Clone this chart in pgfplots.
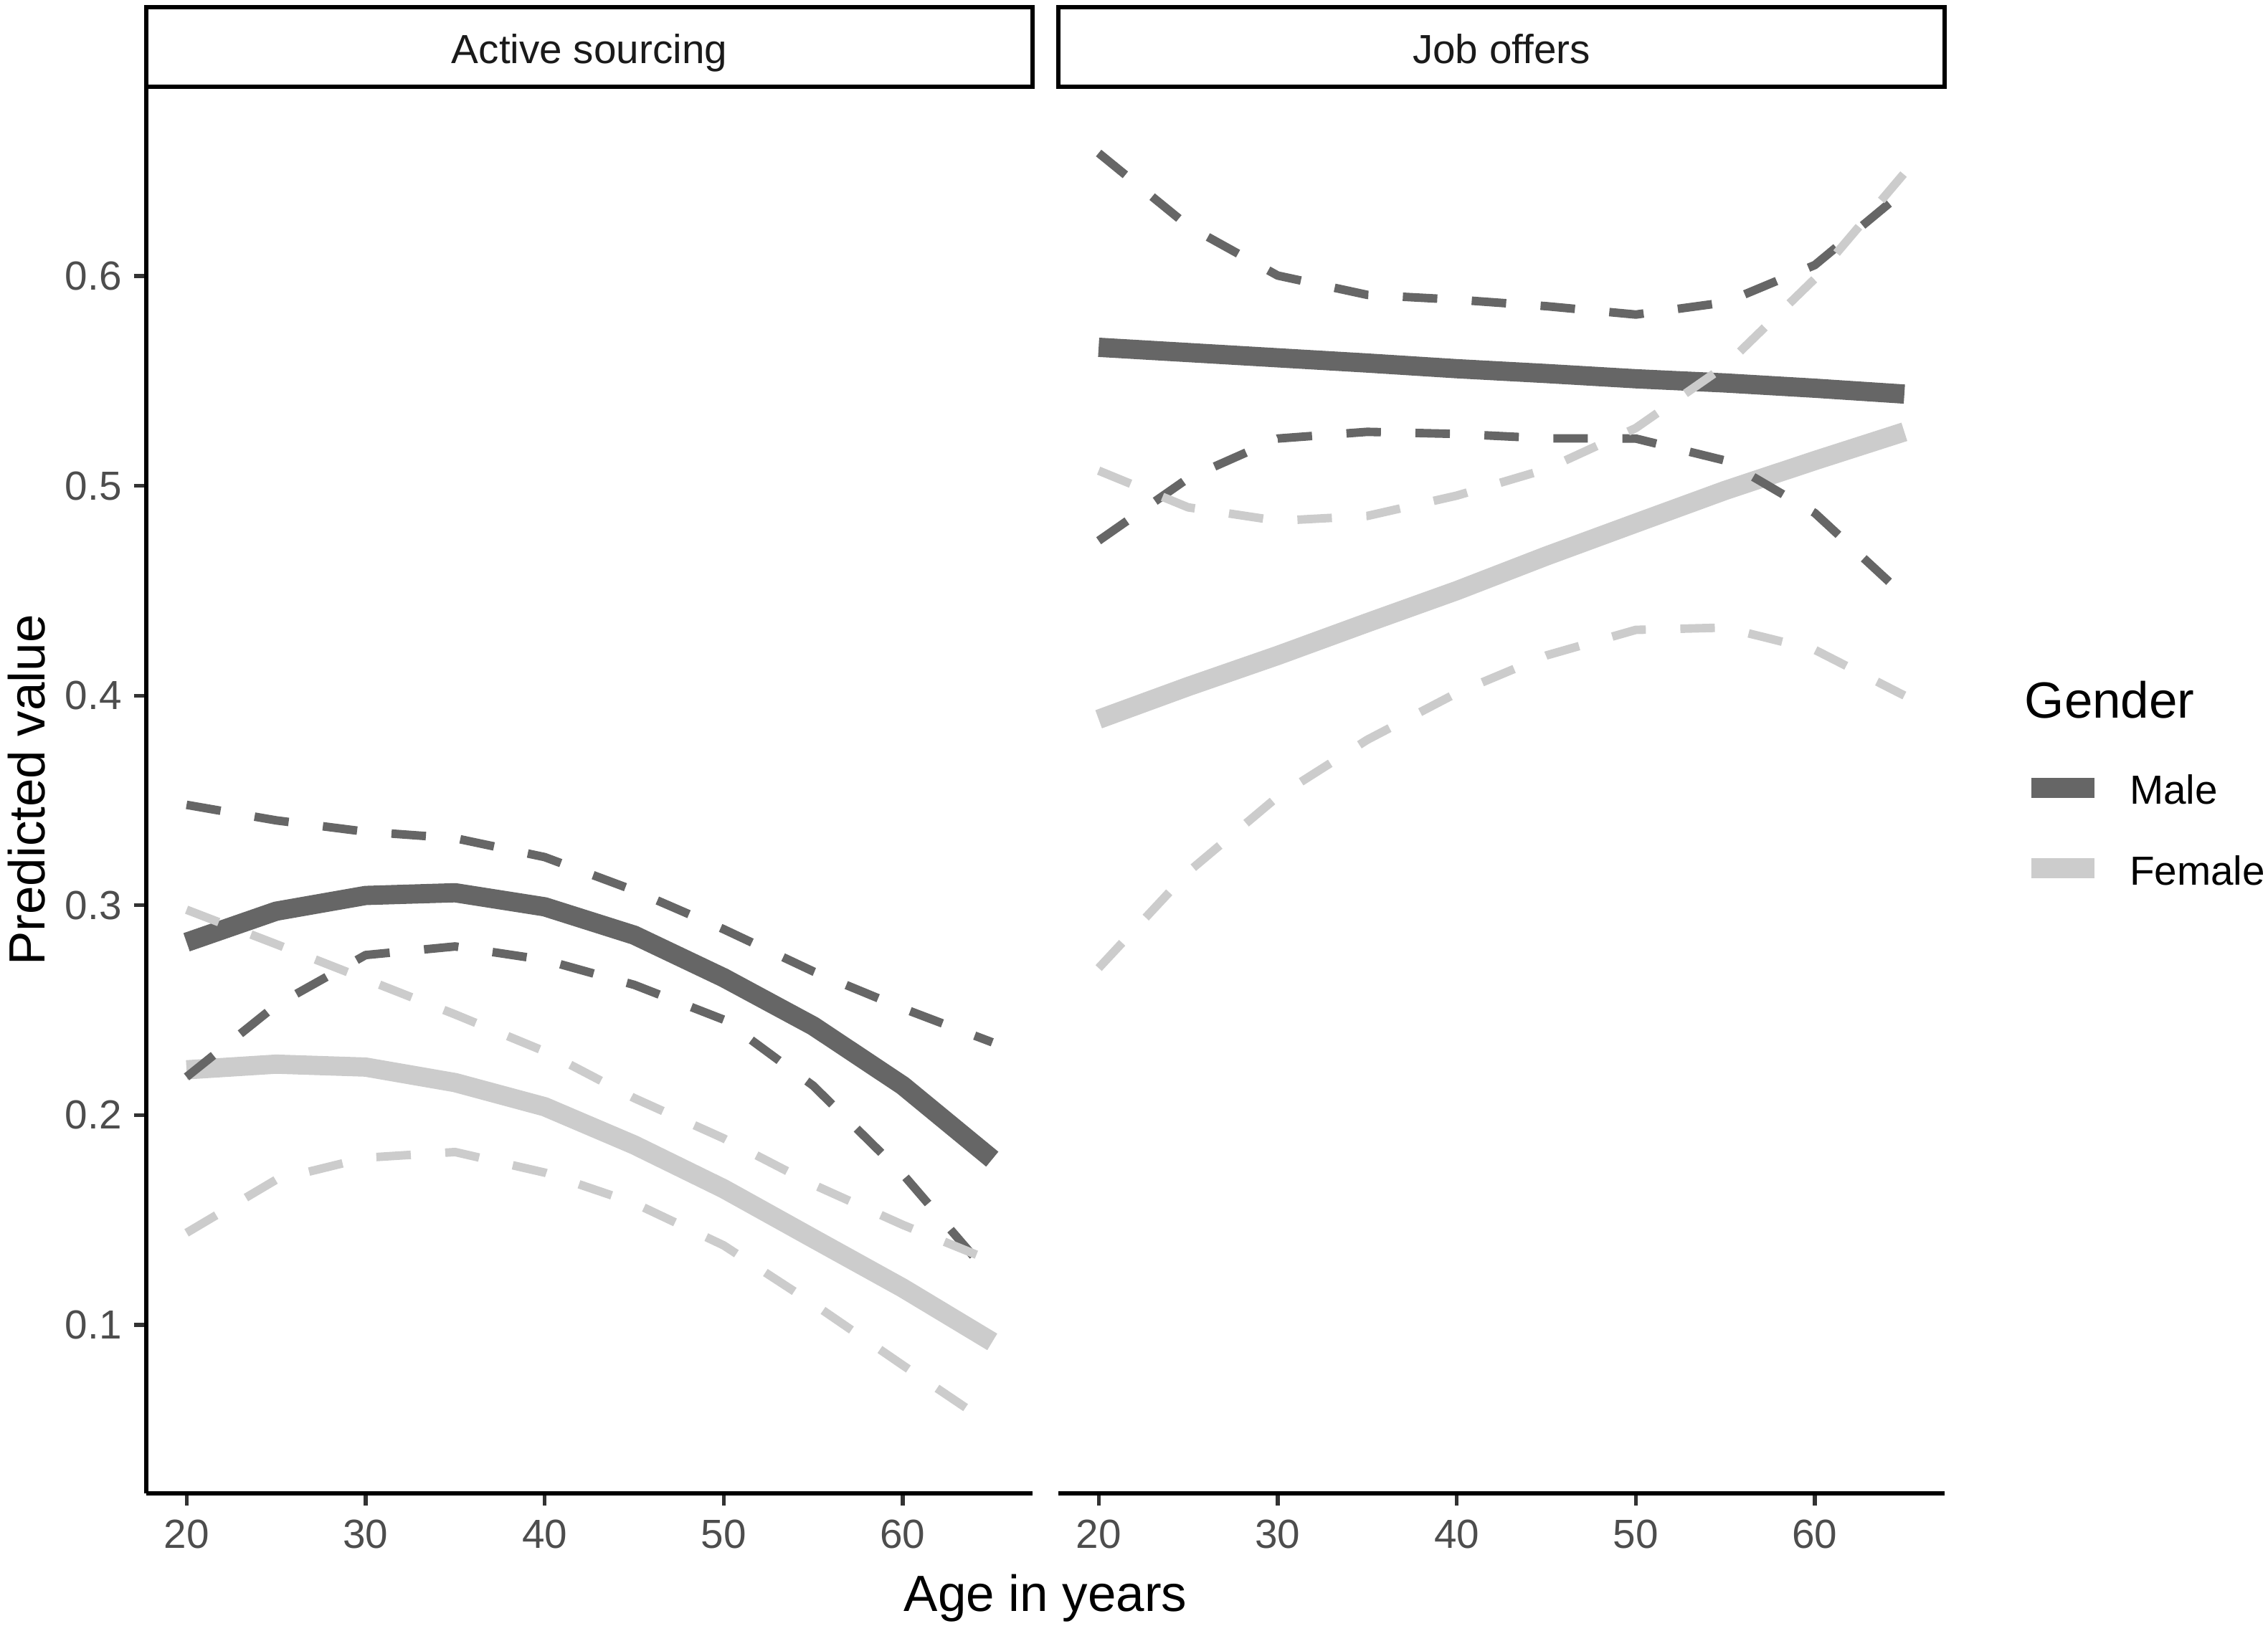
\documentclass[border=0pt]{standalone}
\usepackage{fontspec}
\setmainfont{Liberation Sans}
\usepackage{pgfplots}
\pgfplotsset{compat=1.18}
\usepackage{pgfplotstable}

\definecolor{male}{HTML}{666666}
\definecolor{female}{HTML}{CCCCCC}
\definecolor{grey30}{HTML}{4D4D4D}
\definecolor{grey20}{HTML}{333333}
\definecolor{grey10}{HTML}{1A1A1A}

% Active sourcing
\pgfplotstableread{
age m mlo mhi f flo fhi
20 0.2824 0.2182 0.3479 0.2216 0.1439 0.2979
25 0.2972 0.2524 0.3405 0.2243 0.1692 0.2815
30 0.3047 0.2763 0.3351 0.2229 0.1797 0.2648
35 0.3060 0.2804 0.3320 0.2155 0.1824 0.2480
40 0.2993 0.2740 0.3230 0.2040 0.1726 0.2304
45 0.2858 0.2621 0.3071 0.1858 0.1581 0.2081
50 0.2655 0.2455 0.2886 0.1649 0.1379 0.1889
55 0.2425 0.2140 0.2685 0.1412 0.1101 0.1669
60 0.2141 0.1719 0.2509 0.1176 0.0808 0.1477
65 0.1790 0.1223 0.2347 0.0919 0.0520 0.1304
}\tabA

% Job offers
\pgfplotstableread{
age m mlo mhi f flo fhi
20 0.5660 0.4738 0.6586 0.3887 0.2701 0.5072
25 0.5635 0.5036 0.6238 0.4043 0.3159 0.4897
30 0.5610 0.5225 0.6002 0.4191 0.3518 0.4833
35 0.5585 0.5257 0.5910 0.4347 0.3789 0.4856
40 0.5558 0.5247 0.5887 0.4500 0.4012 0.4953
45 0.5535 0.5226 0.5856 0.4665 0.4191 0.5079
50 0.5510 0.5225 0.5816 0.4822 0.4313 0.5275
55 0.5490 0.5120 0.5874 0.4978 0.4324 0.5572
60 0.5465 0.4870 0.6052 0.5120 0.4218 0.5987
65 0.5437 0.4475 0.6406 0.5257 0.4000 0.6490
}\tabJ

\pgfplotsset{
  panel/.style={
    scale only axis, width=197.76bp, height=313.92bp,
    xmin=17.75, xmax=67.25, ymin=0.0197, ymax=0.6902,
    enlargelimits=false, clip=false,
    xtick={20,30,40,50,60}, ytick={0.1,0.2,0.3,0.4,0.5,0.6},
    yticklabels={0.1,0.2,0.3,0.4,0.5,0.6},
    tick align=outside, major tick length=2.75bp,
    tick style={grey20, line width=0.85bp},
    axis line style={black, line width=0.85bp, -},
    every outer x axis line/.append style={-},
    every outer y axis line/.append style={-},
    /pgf/number format/assume math mode=true,
    ticklabel style={font=\fontsize{9.1}{11}\selectfont, text=grey30},
    xticklabel style={inner sep=0pt, anchor=north, yshift=-3bp},
    yticklabel style={inner sep=0pt, anchor=east, xshift=-2.55bp},
  },
  fit/.style={line width=4.3bp, line join=round, line cap=butt},
  ci/.style={line width=1.9bp, dash pattern=on 7.7bp off 7.7bp, line join=round, line cap=butt},
}

\begin{document}
\begin{tikzpicture}
\useasboundingbox (0,0) rectangle (506.08bp,362.88bp);

\begin{axis}[panel, at={(32.64bp,29.6bp)}, anchor=south west,
  axis x line*=bottom, axis y line*=left]
  \addplot[male, fit] table[x=age, y=m] {\tabA};
  \addplot[female, fit] table[x=age, y=f] {\tabA};
  \addplot[male, ci] table[x=age, y=mlo] {\tabA};
  \addplot[female, ci] table[x=age, y=flo] {\tabA};
  \addplot[male, ci] table[x=age, y=mhi] {\tabA};
  \addplot[female, ci] table[x=age, y=fhi] {\tabA};
\end{axis}

\begin{axis}[panel, at={(236.16bp,29.6bp)}, anchor=south west,
  axis x line*=bottom, hide y axis]
  \addplot[male, fit] table[x=age, y=m] {\tabJ};
  \addplot[female, fit] table[x=age, y=f] {\tabJ};
  \addplot[male, ci] table[x=age, y=mlo] {\tabJ};
  \addplot[female, ci] table[x=age, y=flo] {\tabJ};
  \addplot[male, ci] table[x=age, y=mhi] {\tabJ};
  \addplot[female, ci] table[x=age, y=fhi] {\tabJ};
\end{axis}

% facet strips
\draw[line width=0.85bp, fill=white] (32.64bp,343.52bp) rectangle (230.4bp,361.28bp);
\draw[line width=0.85bp, fill=white] (236.16bp,343.52bp) rectangle (433.92bp,361.28bp);
\node[anchor=base, inner sep=0pt, font=\fontsize{9.1}{11}\selectfont, text=grey10] at (131.52bp,348.7bp) {Active sourcing};
\node[anchor=base, inner sep=0pt, font=\fontsize{9.1}{11}\selectfont, text=grey10] at (335.04bp,348.7bp) {Job offers};

% axis titles
\node[anchor=base, inner sep=0pt, font=\fontsize{11.4}{13}\selectfont] at (233.28bp,3.3bp) {Age in years};
\node[rotate=90, anchor=center, inner sep=0pt, font=\fontsize{11.4}{13}\selectfont] at (5.9bp,186.56bp) {Predicted value};

% legend
\node[anchor=base west, inner sep=0pt, font=\fontsize{11.4}{13}\selectfont] at (451.6bp,202.7bp) {Gender};
\draw[male, line width=4.5bp] (453.3bp,187.04bp) -- (467.4bp,187.04bp);
\draw[female, line width=4.5bp] (453.3bp,169.1bp) -- (467.4bp,169.1bp);
\node[anchor=base west, inner sep=0pt, font=\fontsize{9.1}{11}\selectfont] at (475.0bp,183.5bp) {Male};
\node[anchor=base west, inner sep=0pt, font=\fontsize{9.1}{11}\selectfont] at (475.0bp,165.4bp) {Female};
\end{tikzpicture}
\end{document}
